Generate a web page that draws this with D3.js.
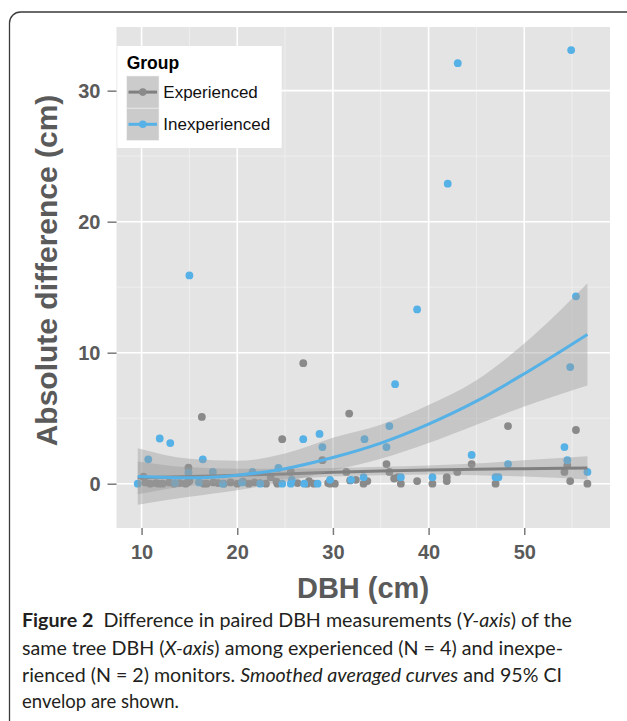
<!DOCTYPE html>
<html><head><meta charset="utf-8">
<script src="https://cdn.jsdelivr.net/npm/d3@7"></script>
<style>body{margin:0;background:#fff}svg{display:block}</style>
</head><body>
<svg id="c" width="627" height="721"></svg>
<script>
// ---- data ----
const groups = ["Experienced", "Inexperienced"];
const expX = [10.2,10.4,10.9,11.5,11.8,12.2,12.9,13.4,14.0,14.6,14.8,15.0,14.9,16.3,16.5,16.8,17.5,18.0,18.6,19.3,20.0,20.6,21.2,21.8,22.4,23.0,23.5,24.1,24.2,24.7,25.6,26.3,26.9,27.3,27.5,28.0,28.9,29.5,29.7,30.2,31.4,31.7,31.8,32.4,33.2,33.6,35.6,35.9,36.4,36.8,37.1,38.8,40.4,41.9,41.9,43.0,44.5,47.0,48.3,54.2,54.5,54.8,55.4,56.6];
const expY = [0.53,0.1,0.0,0.05,0.0,0.0,0.1,0.0,0.05,0.0,0.1,0.2,1.22,5.1,0.0,0.0,0.1,0.05,0.0,0.1,0.0,0.15,0.0,0.1,0.05,0.0,0.5,0.15,0.0,3.4,0.9,0.05,9.2,0.0,0.2,0.0,1.8,0.05,0.0,0.0,0.9,5.35,0.25,0.3,0.0,0.2,1.5,0.9,0.4,0.5,0.0,0.2,0.0,0.5,0.2,0.9,1.5,0.0,4.4,0.9,1.4,0.2,4.1,0.0];
const inexpX = [9.6,10.7,11.9,13.0,13.5,14.9,15.0,16.0,16.4,17.45,18.5,20.5,21.6,22.4,24.3,24.7,25.6,25.7,26.9,27.0,28.4,28.6,28.9,29.7,31.9,33.2,33.3,35.6,35.9,36.5,37.1,38.8,40.4,42.0,43.05,44.5,47.0,47.3,48.3,54.2,54.5,54.8,54.9,55.4,56.6];
const inexpY = [0.0,1.86,3.45,3.1,0.05,0.85,15.9,0.1,1.86,0.9,0.0,0.1,0.9,0.0,1.2,0.0,0.0,0.3,3.4,0.0,0.0,3.8,2.8,0.3,0.3,0.5,3.4,2.8,4.4,7.6,0.5,13.3,0.5,22.9,32.1,2.2,0.5,0.5,1.5,2.8,1.8,8.9,33.1,14.3,0.9];
// smoothed curves with 95% CI
const fitX     = [9.6, 15, 20, 25, 30, 35, 40, 45, 50, 56.6];
const expFit   = [0.45, 0.55, 0.65, 0.75, 0.88, 0.98, 1.05, 1.1, 1.15, 1.2];
const expLo    = [-0.8, -0.15, 0.15, 0.35, 0.55, 0.65, 0.7, 0.65, 0.55, 0.33];
const expHi    = [1.7, 1.25, 1.15, 1.15, 1.2, 1.3, 1.4, 1.55, 1.8, 2.1];
const inexpFit = [0.55, 0.45, 0.65, 1.15, 2.0, 3.1, 4.55, 6.3, 8.4, 11.4];
const inexpLo  = [-1.6, -1.0, -0.5, 0.15, 1.0, 1.9, 3.1, 4.5, 5.9, 7.5];
const inexpHi  = [2.7, 1.9, 1.75, 2.3, 3.5, 4.5, 6.0, 7.9, 10.7, 15.3];
const xTicks = [10, 20, 30, 40, 50];
const yTicks = [0, 10, 20, 30];
const xMinor = [15, 25, 35, 45, 55];
const yMinor = [5, 15, 25];

const colors = {Experienced: "#8a8a8a", Inexperienced: "#56b1e6"};
const svg = d3.select("#c");
const P = {l: 116.5, r: 610, t: 27, b: 528};
const x = d3.scaleLinear().domain([7.38, 58.96]).range([P.l, P.r]);
const y = d3.scaleLinear().domain([-3.38, 34.86]).range([P.b, P.t]);

// outer frame
svg.append("rect").attr("x", 9.5).attr("y", 12).attr("width", 700).attr("height", 800)
  .attr("rx", 11).attr("fill", "none").attr("stroke", "#3a3a3a").attr("stroke-width", 1.3);

svg.append("clipPath").attr("id", "pc").append("rect")
  .attr("x", P.l).attr("y", P.t).attr("width", P.r - P.l).attr("height", P.b - P.t);

svg.append("rect").attr("x", P.l).attr("y", P.t).attr("width", P.r - P.l).attr("height", P.b - P.t).attr("fill", "#e4e4e4");
const g = svg.append("g").attr("clip-path", "url(#pc)");
g.selectAll(".vmin").data(xMinor).join("line").attr("x1", d => x(d)).attr("x2", d => x(d))
  .attr("y1", P.t).attr("y2", P.b).attr("stroke", "#f1f1f1").attr("stroke-width", 0.8);
g.selectAll(".hmin").data(yMinor).join("line").attr("y1", d => y(d)).attr("y2", d => y(d))
  .attr("x1", P.l).attr("x2", P.r).attr("stroke", "#f1f1f1").attr("stroke-width", 0.8);
g.selectAll(".vmaj").data(xTicks).join("line").attr("x1", d => x(d)).attr("x2", d => x(d))
  .attr("y1", P.t).attr("y2", P.b).attr("stroke", "#fff").attr("stroke-width", 1.6);
g.selectAll(".hmaj").data(yTicks).join("line").attr("y1", d => y(d)).attr("y2", d => y(d))
  .attr("x1", P.l).attr("x2", P.r).attr("stroke", "#fff").attr("stroke-width", 1.6);

// points
const pts = [];
expX.forEach((v, i) => pts.push({g: "Experienced", x: v, y: expY[i]}));
inexpX.forEach((v, i) => pts.push({g: "Inexperienced", x: v, y: inexpY[i]}));
g.selectAll(".pt").data(pts).join("circle").attr("cx", d => x(d.x)).attr("cy", d => y(d.y))
  .attr("r", 3.9).attr("fill", d => colors[d.g]);

// smooths
const area = d3.area().curve(d3.curveMonotoneX).x(d => x(d.x)).y0(d => y(d.lo)).y1(d => y(d.hi));
const line = d3.line().curve(d3.curveMonotoneX).x(d => x(d.x)).y(d => y(d.f));
const fits = [
  {g: "Experienced", d: fitX.map((v, i) => ({x: v, f: expFit[i], lo: expLo[i], hi: expHi[i]}))},
  {g: "Inexperienced", d: fitX.map((v, i) => ({x: v, f: inexpFit[i], lo: inexpLo[i], hi: inexpHi[i]}))}
];
fits.forEach(s => {
  g.append("path").attr("d", area(s.d)).attr("fill", "#999999").attr("fill-opacity", 0.4);
  g.append("path").attr("d", line(s.d)).attr("fill", "none").attr("stroke", s.g === "Experienced" ? "#808080" : colors[s.g]).attr("stroke-width", 3);
});

// axes
const axCol = "#5a5a5a";
const xa = svg.append("g").attr("transform", `translate(0,${P.b})`).call(d3.axisBottom(x).tickValues(xTicks).tickSize(7).tickPadding(10));
const ya = svg.append("g").attr("transform", `translate(${P.l},0)`).call(d3.axisLeft(y).tickValues(yTicks).tickSize(9).tickPadding(7));
[xa, ya].forEach(a => {
  a.select(".domain").remove();
  a.selectAll(".tick line").attr("stroke", "#7a7a7a").attr("stroke-width", 1.5);
  a.selectAll(".tick text").attr("fill", axCol).attr("font-family", "Liberation Sans, Arial, sans-serif")
    .attr("font-weight", "bold").attr("font-size", 20);
});
ya.selectAll(".tick text").attr("dy", "0.36em");

svg.append("text").attr("x", 363).attr("y", 598).attr("text-anchor", "middle")
  .attr("font-family", "Liberation Sans, Arial, sans-serif").attr("font-weight", "bold").attr("font-size", 29)
  .attr("fill", axCol).text("DBH (cm)");
svg.append("text").attr("transform", "translate(57,270.5) rotate(-90)").attr("text-anchor", "middle")
  .attr("font-family", "Liberation Sans, Arial, sans-serif").attr("font-weight", "bold").attr("font-size", 30)
  .attr("fill", axCol).text("Absolute difference (cm)");

// legend
const L = svg.append("g");
L.append("rect").attr("x", 117.3).attr("y", 46).attr("width", 164.4).attr("height", 102).attr("fill", "#fff");
L.append("text").attr("x", 126.7).attr("y", 68.5).attr("font-family", "Liberation Sans, Arial, sans-serif")
  .attr("font-weight", "bold").attr("font-size", 17.5).attr("fill", "#000").text("Group");
groups.forEach((k, i) => {
  const ky = 76 + i * 32.2;
  L.append("rect").attr("x", 126.7).attr("y", ky).attr("width", 32.3).attr("height", 32.2)
    .attr("fill", "#cbcbcb").attr("stroke", "#f2f2f2").attr("stroke-width", 0.6);
  L.append("line").attr("x1", 128.5).attr("x2", 157).attr("y1", ky + 16.1).attr("y2", ky + 16.1)
    .attr("stroke", k === "Experienced" ? "#808080" : colors[k]).attr("stroke-width", 3);
  L.append("circle").attr("cx", 142.8).attr("cy", ky + 16.1).attr("r", 3.8).attr("fill", colors[k]);
  L.append("text").attr("x", 163.3).attr("y", ky + 22).attr("font-family", "Liberation Sans, Arial, sans-serif")
    .attr("font-size", 17).attr("fill", "#111").text(k);
});

// caption
const cap = svg.append("g").attr("font-family", "Lato, 'Noto Sans', sans-serif").attr("font-size", 18.5).attr("fill", "#231f20");
const lines = [
  {y: 627, w: 550, parts: [["Figure 2", "b"], ["  Difference in paired DBH measurements (", ""], ["Y-axis", "i"], [") of the", ""]]},
  {y: 654.5, w: 541, parts: [["same tree DBH (", ""], ["X-axis", "i"], [") among experienced (N = 4) and inexpe-", ""]]},
  {y: 681.5, w: 540, parts: [["rienced (N = 2) monitors. ", ""], ["Smoothed averaged curves", "i"], [" and 95% CI", ""]]},
  {y: 708, w: null, parts: [["envelop are shown.", ""]]}
];
lines.forEach(l => {
  const t = cap.append("text").attr("x", 22).attr("y", l.y).attr("xml:space", "preserve");
  l.parts.forEach(p => {
    const s = t.append("tspan").text(p[0]);
    if (p[1] === "b") s.attr("font-weight", "bold");
    if (p[1] === "i") s.attr("font-style", "italic");
  });
  if (l.w) t.attr("textLength", l.w).attr("lengthAdjust", "spacingAndGlyphs");
});
</script>
</body></html>
